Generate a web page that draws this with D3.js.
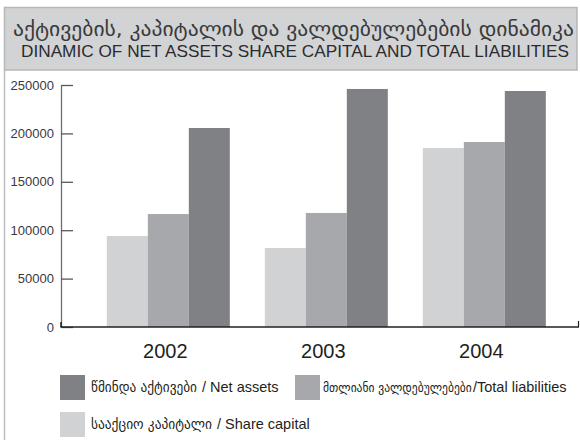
<!DOCTYPE html>
<html><head><meta charset="utf-8">
<script src="https://cdn.jsdelivr.net/npm/d3@7"></script>
<style>
html,body{margin:0;padding:0;background:#fff;}
svg{display:block;font-family:"Liberation Sans",Arial,"DejaVu Sans",sans-serif;}
</style></head>
<body>
<svg id="chart" width="580" height="440"></svg>
<script>
const titleKa = "აქტივების, კაპიტალის და ვალდებულებების დინამიკა";
const titleEn = "DINAMIC OF NET ASSETS SHARE CAPITAL AND TOTAL LIABILITIES";
const years = ["2002", "2003", "2004"];
const seriesKeys = ["share", "liabilities", "net"];
const shareCapital = [94000, 81600, 184900];
const totalLiabilities = [116700, 117800, 191100];
const netAssets = [205600, 245900, 243800];
const yTicks = [0, 50000, 100000, 150000, 200000, 250000];
const legendKa = {net: "წმინდა აქტივები", liabilities: "მთლიანი ვალდებულებები", share: "სააქციო კაპიტალი"};
const legendEn = {net: " / Net assets", liabilities: "/Total liabilities", share: " / Share capital"};
const colors = {share: "#d1d2d4", liabilities: "#a7a8ab", net: "#808184"};

const values = {share: shareCapital, liabilities: totalLiabilities, net: netAssets};
const data = years.map((y, i) => ({year: y, share: values.share[i], liabilities: values.liabilities[i], net: values.net[i]}));

const svg = d3.select("#chart");

// fit a text element to a target width: shrink font if too wide, stretch if too narrow
function fitText(sel, target, maxSize) {
  sel.each(function() {
    const s = d3.select(this);
    const n = this.getComputedTextLength();
    const fs = +s.attr("font-size");
    if (n <= 0) return;
    const nf = Math.min(maxSize, fs * target / n);
    s.attr("font-size", nf);
    const n2 = this.getComputedTextLength();
    if (n2 < target - 1) s.attr("textLength", target).attr("lengthAdjust", "spacingAndGlyphs");
  });
}

// frame
svg.append("line").attr("x1", 4.5).attr("x2", 4.5).attr("y1", 70).attr("y2", 440)
  .attr("stroke", "#bcbec0").attr("stroke-width", 1.5);
svg.append("rect").attr("x", 4.5).attr("y", 7.5).attr("width", 572.5).attr("height", 62.5)
  .attr("fill", "#d2d3d5").attr("stroke", "#b6b7b9").attr("stroke-width", 1.5);
const t1 = svg.append("text").attr("x", 13).attr("y", 36).attr("font-size", 20)
  .attr("font-family", "'DejaVu Sans Condensed','DejaVu Sans',sans-serif")
  .attr("fill", "#3a3a3c").text(titleKa);
fitText(t1, 561, 20);
const t2 = svg.append("text").attr("x", 21).attr("y", 57).attr("font-size", 16)
  .attr("fill", "#2b2b2d").text(titleEn);
fitText(t2, 548, 16.5);

// scales
const y = d3.scaleLinear().domain([0, 250000]).range([327, 85]);
const x0 = d3.scaleBand().domain(years).range([61, 579])
  .paddingInner(0.2215).paddingOuter(0.25).align(0.58);
const x1 = d3.scaleBand().domain(seriesKeys).range([0, x0.bandwidth()]).padding(0);

// y axis
const yAxis = d3.axisLeft(y).tickValues(yTicks).tickSize(0).tickPadding(7).tickFormat(d3.format("d"));
const ga = svg.append("g").attr("transform", "translate(61,0)").call(yAxis);
ga.select(".domain").attr("stroke", "#6d6e71").attr("stroke-width", 1.3);
ga.selectAll("text").attr("font-size", 13).attr("fill", "#3a3a3c").attr("font-family", "'Liberation Sans',Arial,sans-serif");
ga.selectAll(".tick").append("line").attr("x1", 0).attr("x2", 12)
  .attr("stroke", "#58595b").attr("stroke-width", 1.3);

// bars
const groups = svg.append("g").selectAll("g").data(data).join("g")
  .attr("transform", d => `translate(${x0(d.year)},0)`);
groups.selectAll("rect").data(d => seriesKeys.map(k => ({key: k, value: d[k]}))).join("rect")
  .attr("x", d => x1(d.key)).attr("width", x1.bandwidth())
  .attr("y", d => y(d.value)).attr("height", d => y(0) - y(d.value))
  .attr("fill", d => colors[d.key]);

// x baseline
svg.append("line").attr("x1", 60.5).attr("x2", 579).attr("y1", y(0)).attr("y2", y(0))
  .attr("stroke", "#231f20").attr("stroke-width", 1.5);
svg.append("line").attr("x1", 578.5).attr("x2", 578.5).attr("y1", y(0)).attr("y2", y(0) - 6)
  .attr("stroke", "#231f20").attr("stroke-width", 1.2);
svg.append("line").attr("x1", 61).attr("x2", 61).attr("y1", y(0)).attr("y2", y(0) - 5)
  .attr("stroke", "#231f20").attr("stroke-width", 1.5);

// x labels
const xAxis = d3.axisBottom(x0).tickSize(0).tickPadding(0);
const gx = svg.append("g").attr("transform", `translate(-3,${y(0)})`).call(xAxis);
gx.select(".domain").remove();
gx.selectAll("text").attr("font-size", 20).attr("fill", "#231f20")
  .attr("dy", null).attr("y", 31).attr("font-family", "'Liberation Sans',Arial,sans-serif");

// legend
const legendItems = [
  {key: "net", x: 60, y: 375, tx: 31, kw: 106},
  {key: "liabilities", x: 295, y: 375, tx: 28, kw: 149},
  {key: "share", x: 60, y: 412, tx: 31, kw: 121}
];
const lg = svg.append("g").selectAll("g").data(legendItems).join("g")
  .attr("transform", d => `translate(${d.x},${d.y})`);
lg.append("rect").attr("width", 25).attr("height", 25).attr("fill", d => colors[d.key]);
lg.append("text").attr("x", d => d.tx).attr("y", 17).attr("font-size", 14)
  .attr("font-family", "'DejaVu Sans Condensed','DejaVu Sans',sans-serif")
  .attr("fill", "#231f20")
  .text(d => legendKa[d.key])
  .each(function(d) { fitText(d3.select(this), d.kw, 14); });
lg.append("text").attr("x", d => d.tx + d.kw + 1).attr("y", 17).attr("font-size", 14.5)
  .attr("fill", "#231f20").style("white-space", "pre")
  .text(d => legendEn[d.key]);
</script>
</body></html>
